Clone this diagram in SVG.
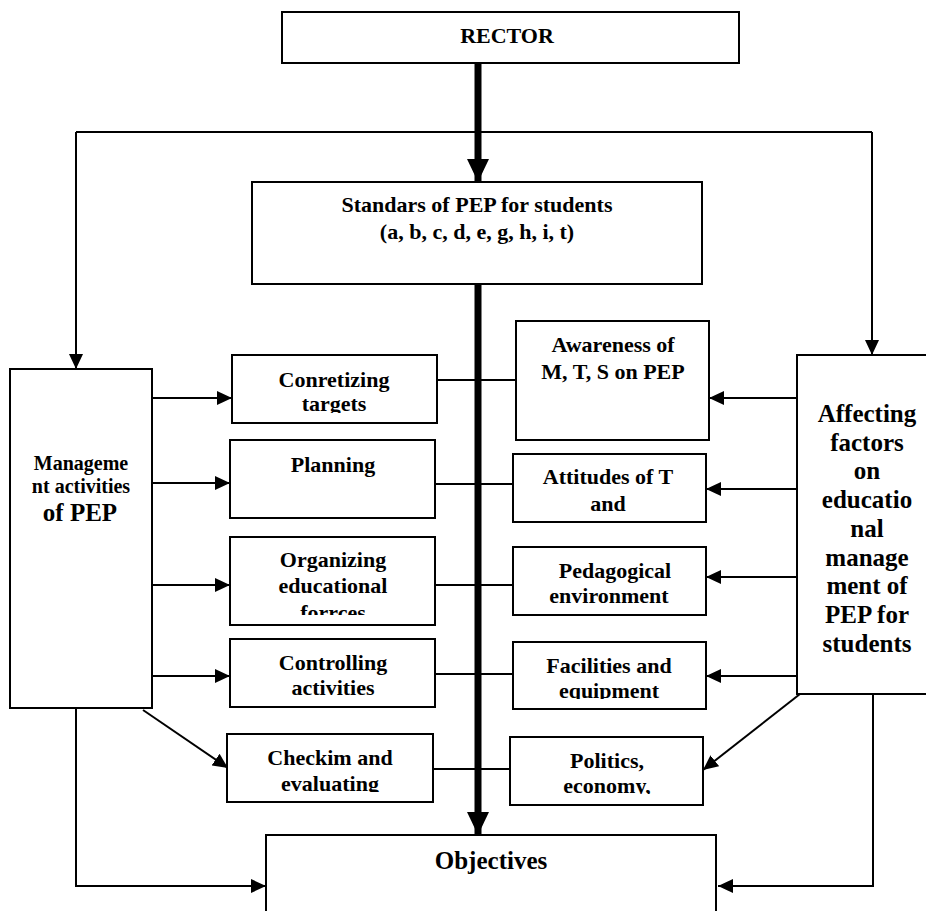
<svg xmlns="http://www.w3.org/2000/svg" width="926" height="911" viewBox="0 0 926 911">
<style>
.box{fill:#fff;stroke:#000;stroke-width:2}
text{font-family:'Liberation Serif','Times New Roman',Times,serif;font-weight:700;font-size:22px;fill:#000;text-anchor:middle}
.big{font-size:25px}
.mid{font-size:20px}
.ln{fill:none;stroke:#000;stroke-width:2}
.arr{fill:none;stroke:#000;stroke-width:2;marker-end:url(#ah)}
.thick{fill:none;stroke:#000;stroke-width:7;marker-end:url(#tah)}
</style>
<defs>
<marker id="ah" markerUnits="userSpaceOnUse" markerWidth="15" markerHeight="15" refX="15" refY="7" orient="auto" viewBox="0 0 15 14">
<path d="M0,0 L15,7 L0,14 z" fill="#000"/>
</marker>
<marker id="tah" markerUnits="userSpaceOnUse" markerWidth="24" markerHeight="22" refX="23" refY="11" orient="auto" viewBox="0 0 24 22">
<path d="M0,0 L23,11 L0,22 z" fill="#000"/>
</marker>
<clipPath id="cConr"><rect x="232" y="355" width="205" height="58"/></clipPath>
<clipPath id="cOrg"><rect x="230" y="537" width="205" height="78"/></clipPath>
<clipPath id="cChk"><rect x="227" y="734" width="206" height="58"/></clipPath>
<clipPath id="cFac"><rect x="513" y="642" width="193" height="57"/></clipPath>
<clipPath id="cPol"><rect x="510" y="737" width="193" height="57"/></clipPath>
</defs>

<g id="connectors">
<path class="thick" d="M478,63 V182"/>
<path class="thick" d="M478,284 V835"/>
<path class="ln" d="M76,132 H872"/>
<path class="arr" d="M76,132 V369"/>
<path class="arr" d="M872,132 V355"/>
<path class="arr" d="M152,398 H232"/>
<path class="arr" d="M152,483 H230"/>
<path class="arr" d="M152,585 H230"/>
<path class="arr" d="M152,676 H230"/>
<path class="arr" d="M143,710 L228,768"/>
<path class="arr" d="M797,398 H709"/>
<path class="arr" d="M797,489 H706"/>
<path class="arr" d="M797,577 H706"/>
<path class="arr" d="M797,676 H706"/>
<path class="arr" d="M800,694 L703,770"/>
<path class="ln" d="M434,380 H516"/>
<path class="ln" d="M435,484 H517"/>
<path class="ln" d="M431,585 H513"/>
<path class="ln" d="M432,674 H515"/>
<path class="ln" d="M430,769 H513"/>
<path class="arr" d="M76,707 V886 H266"/>
<path class="arr" d="M873,694 V886 H718"/>
</g>

<g id="rector">
<rect class="box" x="282" y="12" width="457" height="51"/>
<text x="507" y="43">RECTOR</text>
</g>

<g id="standards">
<rect class="box" x="252" y="182" width="450" height="102"/>
<text x="477" y="212">Standars of PEP for students</text>
<text x="477" y="239">(a, b, c, d, e, g, h, i, t)</text>
</g>

<g id="management">
<rect class="box" x="10" y="369" width="142" height="339"/>
<text class="mid" x="81" y="470">Manageme</text>
<text class="mid" x="81" y="493">nt activities</text>
<text class="big" x="80" y="521">of PEP</text>
</g>

<g id="conretizing">
<rect class="box" x="232" y="355" width="205" height="68"/>
<g clip-path="url(#cConr)">
<text x="334" y="387">Conretizing</text>
<text x="334" y="411">targets</text>
</g>
</g>

<g id="planning">
<rect class="box" x="230" y="440" width="205" height="78"/>
<text x="333" y="472">Planning</text>
</g>

<g id="organizing">
<rect class="box" x="230" y="537" width="205" height="88"/>
<g clip-path="url(#cOrg)">
<text x="333" y="567">Organizing</text>
<text x="333" y="593">educational</text>
<text x="333" y="620">forrces</text>
</g>
</g>

<g id="controlling">
<rect class="box" x="230" y="639" width="205" height="68"/>
<text x="333" y="670">Controlling</text>
<text x="333" y="695">activities</text>
</g>

<g id="checking">
<rect class="box" x="227" y="734" width="206" height="68"/>
<g clip-path="url(#cChk)">
<text x="330" y="765">Checkim and</text>
<text x="330" y="791">evaluating</text>
</g>
</g>

<g id="awareness">
<rect class="box" x="516" y="321" width="193" height="119"/>
<text x="613" y="352">Awareness of</text>
<text x="613" y="379">M, T, S on PEP</text>
</g>

<g id="attitudes">
<rect class="box" x="513" y="454" width="193" height="68"/>
<text x="608" y="484">Attitudes of T</text>
<text x="608" y="511">and</text>
</g>

<g id="pedagogical">
<rect class="box" x="513" y="547" width="193" height="68"/>
<text x="615" y="578">Pedagogical</text>
<text x="609" y="603">environment</text>
</g>

<g id="facilities">
<rect class="box" x="513" y="642" width="193" height="67"/>
<g clip-path="url(#cFac)">
<text x="609" y="673">Facilities and</text>
<text x="609" y="698">equipment</text>
</g>
</g>

<g id="politics">
<rect class="box" x="510" y="737" width="193" height="68"/>
<g clip-path="url(#cPol)">
<text x="607" y="768">Politics,</text>
<text x="607" y="793">economy,</text>
</g>
</g>

<g id="affecting">
<rect class="box" x="797" y="355" width="145" height="339"/>
<text class="big" x="867" y="422">Affecting</text>
<text class="big" x="867" y="451">factors</text>
<text class="big" x="867" y="479">on</text>
<text class="big" x="867" y="508">educatio</text>
<text class="big" x="867" y="537">nal</text>
<text class="big" x="867" y="566">manage</text>
<text class="big" x="867" y="594">ment of</text>
<text class="big" x="867" y="623">PEP for</text>
<text class="big" x="867" y="652">students</text>
</g>

<g id="objectives">
<rect class="box" x="266" y="835" width="450" height="90"/>
<text class="big" x="491" y="869">Objectives</text>
</g>
</svg>
